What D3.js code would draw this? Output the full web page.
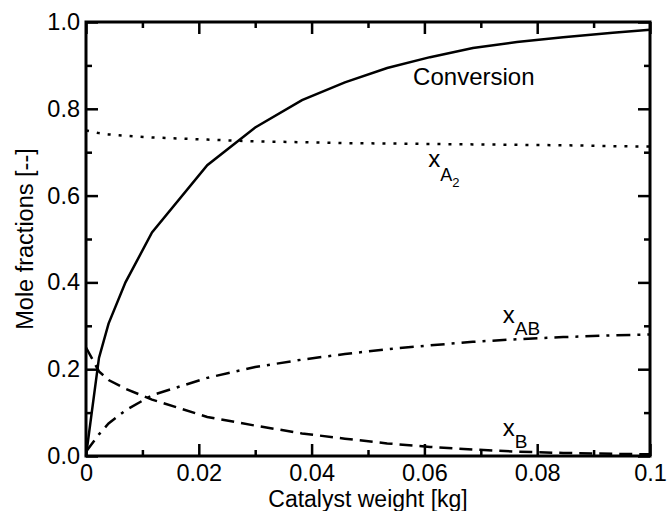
<!DOCTYPE html>
<html>
<head>
<meta charset="utf-8">
<script src="https://cdn.jsdelivr.net/npm/d3@7"></script>
<style>
  body { margin: 0; background: #fff; }
  svg { font-family: "Liberation Sans", Arial, sans-serif; }
  .tick text { font-size: 23.5px; fill: #000; }
</style>
</head>
<body>
<svg id="chart" width="667" height="511"></svg>
<script>
// Catalyst weight samples (kg)
const weight = [0, 0.0023, 0.004, 0.007, 0.0117, 0.0215, 0.030, 0.0383, 0.0459, 0.0534, 0.061, 0.0686, 0.0764, 0.0846, 0.0934, 0.1];
// Series values
const conversion = [0, 0.226, 0.305, 0.40, 0.515, 0.670, 0.757, 0.820, 0.861, 0.894, 0.919, 0.940, 0.954, 0.965, 0.975, 0.982];
const xA2 = [0.75, 0.744, 0.741, 0.738, 0.734, 0.729, 0.725, 0.723, 0.721, 0.720, 0.719, 0.718, 0.717, 0.716, 0.714, 0.713];
const xAB = [0.01, 0.05, 0.075, 0.105, 0.14, 0.18, 0.205, 0.222, 0.235, 0.246, 0.255, 0.263, 0.269, 0.274, 0.278, 0.280];
const xB = [0.25, 0.195, 0.175, 0.155, 0.13, 0.09, 0.07, 0.052, 0.040, 0.029, 0.021, 0.015, 0.010, 0.007, 0.005, 0.004];

// Tick labels
const xTicks = [0, 0.02, 0.04, 0.06, 0.08, 0.1];
const xTickLabels = ["0", "0.02", "0.04", "0.06", "0.08", "0.1"];
const yTicks = [0, 0.2, 0.4, 0.6, 0.8, 1.0];
const yTickLabels = ["0.0", "0.2", "0.4", "0.6", "0.8", "1.0"];
const xMinor = [0.01, 0.03, 0.05, 0.07, 0.09];
const yMinor = [0.1, 0.3, 0.5, 0.7, 0.9];

const margin = {top: 22, right: 17, bottom: 55, left: 86};
const W = 667, H = 511;

const svg = d3.select("#chart");

const x = d3.scaleLinear().domain([0, 0.1]).range([margin.left, W - margin.right]);
const y = d3.scaleLinear().domain([0, 1]).range([H - margin.bottom, margin.top]);

// Axes: ticks point inward
function addAxis(axis, transform) {
    const g = svg.append("g").attr("transform", transform).call(axis);
    g.select(".domain").remove();
    g.selectAll(".tick line").attr("stroke", "#000").attr("stroke-width", 2.5);
    return g;
}

const plotBottom = y(0), plotTop = y(1), plotLeft = x(0), plotRight = x(0.1);

addAxis(d3.axisBottom(x).tickValues(xTicks).tickSizeInner(-12).tickSizeOuter(0).tickPadding(8.5)
    .tickFormat((d, i) => xTickLabels[i]), `translate(0,${plotBottom})`);
addAxis(d3.axisBottom(x).tickValues(xMinor).tickSizeInner(-6).tickSizeOuter(0).tickFormat(""), `translate(0,${plotBottom})`);
addAxis(d3.axisTop(x).tickValues(xTicks).tickSizeInner(-12).tickSizeOuter(0).tickFormat(""), `translate(0,${plotTop})`);
addAxis(d3.axisTop(x).tickValues(xMinor).tickSizeInner(-6).tickSizeOuter(0).tickFormat(""), `translate(0,${plotTop})`);

addAxis(d3.axisLeft(y).tickValues(yTicks).tickSizeInner(-12).tickSizeOuter(0).tickPadding(6)
    .tickFormat((d, i) => yTickLabels[i]), `translate(${plotLeft},0)`);
addAxis(d3.axisLeft(y).tickValues(yMinor).tickSizeInner(-6).tickSizeOuter(0).tickFormat(""), `translate(${plotLeft},0)`);
addAxis(d3.axisRight(y).tickValues(yTicks).tickSizeInner(-12).tickSizeOuter(0).tickFormat(""), `translate(${plotRight},0)`);
addAxis(d3.axisRight(y).tickValues(yMinor).tickSizeInner(-6).tickSizeOuter(0).tickFormat(""), `translate(${plotRight},0)`);

// Curves
const line = d3.line().x((d, i) => x(weight[i])).y(d => y(d));
const series = [
    {values: conversion, dash: null},
    {values: xA2, dash: "3,8"},
    {values: xAB, dash: "14,7,3,7"},
    {values: xB, dash: "13,7"}
];
series.forEach(s => {
    svg.append("path")
        .attr("d", line(s.values))
        .attr("fill", "none")
        .attr("stroke", "#000")
        .attr("stroke-width", 2.5)
        .attr("stroke-dasharray", s.dash);
});

// Frame
svg.append("rect")
    .attr("x", plotLeft).attr("y", plotTop)
    .attr("width", plotRight - plotLeft).attr("height", plotBottom - plotTop)
    .attr("fill", "none").attr("stroke", "#000").attr("stroke-width", 3);

// Curve labels
svg.append("text").attr("x", x(0.058)).attr("y", 85)
    .attr("font-size", 24).text("Conversion");

function subLabel(px, py, parts) {
    const t = svg.append("text").attr("x", px).attr("y", py).attr("font-size", 24);
    t.append("tspan").text("x");
    parts.forEach(p => {
        t.append("tspan").attr("font-size", p.size).attr("dy", p.dy).text(p.text);
    });
}
subLabel(x(0.0607), 167, [{text: "A", size: 18, dy: 14}, {text: "2", size: 13, dy: 6}]);
subLabel(x(0.0739), 323, [{text: "AB", size: 19, dy: 12}]);
subLabel(x(0.0739), 436, [{text: "B", size: 19, dy: 12}]);

// Axis titles
svg.append("text")
    .attr("x", (plotLeft + plotRight) / 2).attr("y", 507)
    .attr("text-anchor", "middle").attr("font-size", 23)
    .text("Catalyst weight [kg]");

svg.append("text")
    .attr("transform", `translate(33,${(plotTop + plotBottom) / 2}) rotate(-90)`)
    .attr("text-anchor", "middle").attr("font-size", 23.5)
    .text("Mole fractions [--]");
</script>
</body>
</html>
